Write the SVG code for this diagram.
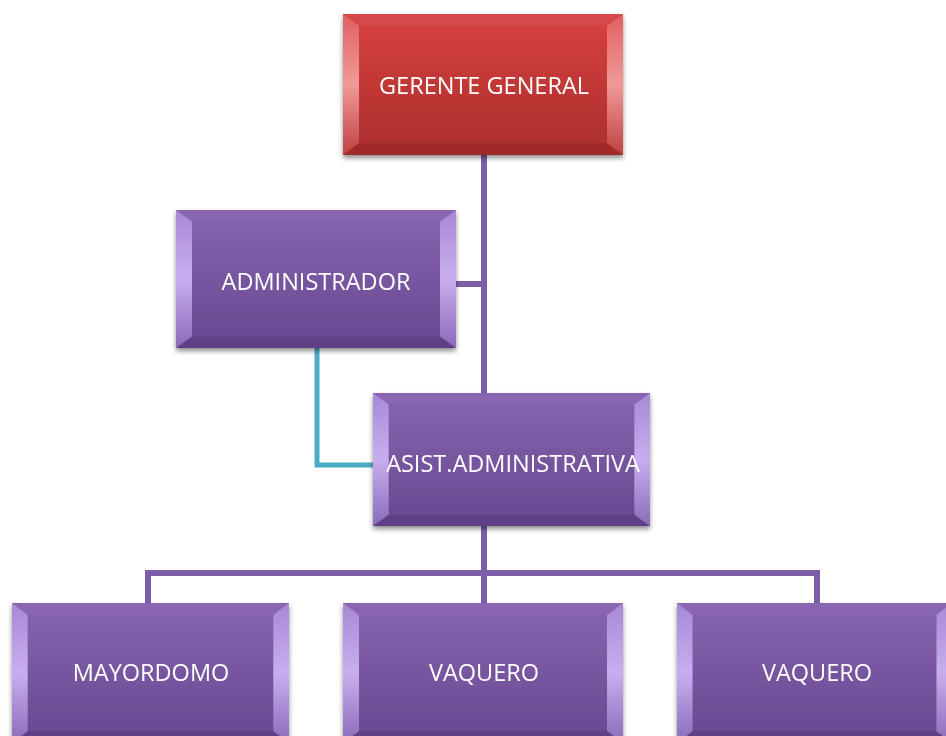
<svg xmlns="http://www.w3.org/2000/svg" width="946" height="736" viewBox="0 0 946 736">
  <defs>
    <style>
      .lbl { font-family: "Open Sans", "Liberation Sans", sans-serif; font-size: 23.5px; fill: #ffffff; text-anchor: middle; dominant-baseline: central; }
      .link { fill: none; stroke: #7d5ea9; stroke-width: 6; }
      .link-alt { fill: none; stroke: #4bacc6; stroke-width: 5; }
    </style>
    <filter id="shadow" x="-10%" y="-10%" width="120%" height="130%">
      <feDropShadow dx="0" dy="3" stdDeviation="2.5" flood-color="#000" flood-opacity="0.45"/>
    </filter>
    <!-- purple bevel -->
    <linearGradient id="pFace" x1="0" y1="0" x2="0" y2="1">
      <stop offset="0" stop-color="#8462ad"/>
      <stop offset="1" stop-color="#6a4a92"/>
    </linearGradient>
    <linearGradient id="pSide" x1="0" y1="0" x2="0" y2="1">
      <stop offset="0" stop-color="#a888d4"/>
      <stop offset="0.5" stop-color="#c8aef0"/>
      <stop offset="1" stop-color="#8a6ab8"/>
    </linearGradient>
    <!-- red bevel -->
    <linearGradient id="rFace" x1="0" y1="0" x2="0" y2="1">
      <stop offset="0" stop-color="#d4403e"/>
      <stop offset="1" stop-color="#ae2f2e"/>
    </linearGradient>
    <linearGradient id="rSide" x1="0" y1="0" x2="0" y2="1">
      <stop offset="0" stop-color="#e06060"/>
      <stop offset="0.5" stop-color="#f09a98"/>
      <stop offset="1" stop-color="#c04040"/>
    </linearGradient>

    <symbol id="boxP" viewBox="0 0 280 140" preserveAspectRatio="none">
      <rect x="0" y="0" width="280" height="140" fill="#7a58a6"/>
      <polygon points="0,0 280,0 264,12 16,12" fill="#8a66b2"/>
      <polygon points="0,140 280,140 264,128 16,128" fill="#5e3f86"/>
      <polygon points="0,0 16,12 16,128 0,140" fill="url(#pSide)"/>
      <polygon points="280,0 264,12 264,128 280,140" fill="url(#pSide)"/>
      <rect x="16" y="12" width="248" height="116" fill="url(#pFace)"/>
    </symbol>
    <symbol id="boxR" viewBox="0 0 280 140" preserveAspectRatio="none">
      <rect x="0" y="0" width="280" height="140" fill="#c43a38"/>
      <polygon points="0,0 280,0 264,12 16,12" fill="#d44a48"/>
      <polygon points="0,140 280,140 264,128 16,128" fill="#9e2a2a"/>
      <polygon points="0,0 16,12 16,128 0,140" fill="url(#rSide)"/>
      <polygon points="280,0 264,12 264,128 280,140" fill="url(#rSide)"/>
      <rect x="16" y="12" width="248" height="116" fill="url(#rFace)"/>
    </symbol>
  </defs>

  <rect width="946" height="736" fill="#ffffff"/>

  <!-- connectors -->
  <g id="connectors">
    <path class="link" d="M484,154 V394"/>
    <path class="link" d="M455,284 H484"/>
    <path class="link" d="M484,524 V604"/>
    <path class="link" d="M148,604 V573 H817 V604"/>
    <path class="link-alt" d="M317,347 V465 H374"/>
  </g>

  <g id="gerente-general" filter="url(#shadow)">
    <use href="#boxR" x="343" y="14" width="280" height="141"/>
    <text class="lbl" x="484" y="85">GERENTE GENERAL</text>
  </g>

  <g id="administrador" filter="url(#shadow)">
    <use href="#boxP" x="176" y="210" width="280" height="138"/>
    <text class="lbl" x="316" y="281">ADMINISTRADOR</text>
  </g>

  <g id="asist-administrativa" filter="url(#shadow)">
    <use href="#boxP" x="373" y="393" width="277" height="133"/>
    <text class="lbl" x="513" y="463">ASIST.ADMINISTRATIVA</text>
  </g>

  <g id="mayordomo" filter="url(#shadow)">
    <use href="#boxP" x="12" y="603" width="277" height="140"/>
    <text class="lbl" x="151" y="672">MAYORDOMO</text>
  </g>

  <g id="vaquero-1" filter="url(#shadow)">
    <use href="#boxP" x="343" y="603" width="280" height="140"/>
    <text class="lbl" x="484" y="672">VAQUERO</text>
  </g>

  <g id="vaquero-2" filter="url(#shadow)">
    <use href="#boxP" x="677" y="603" width="275" height="140"/>
    <text class="lbl" x="817" y="672">VAQUERO</text>
  </g>
</svg>
